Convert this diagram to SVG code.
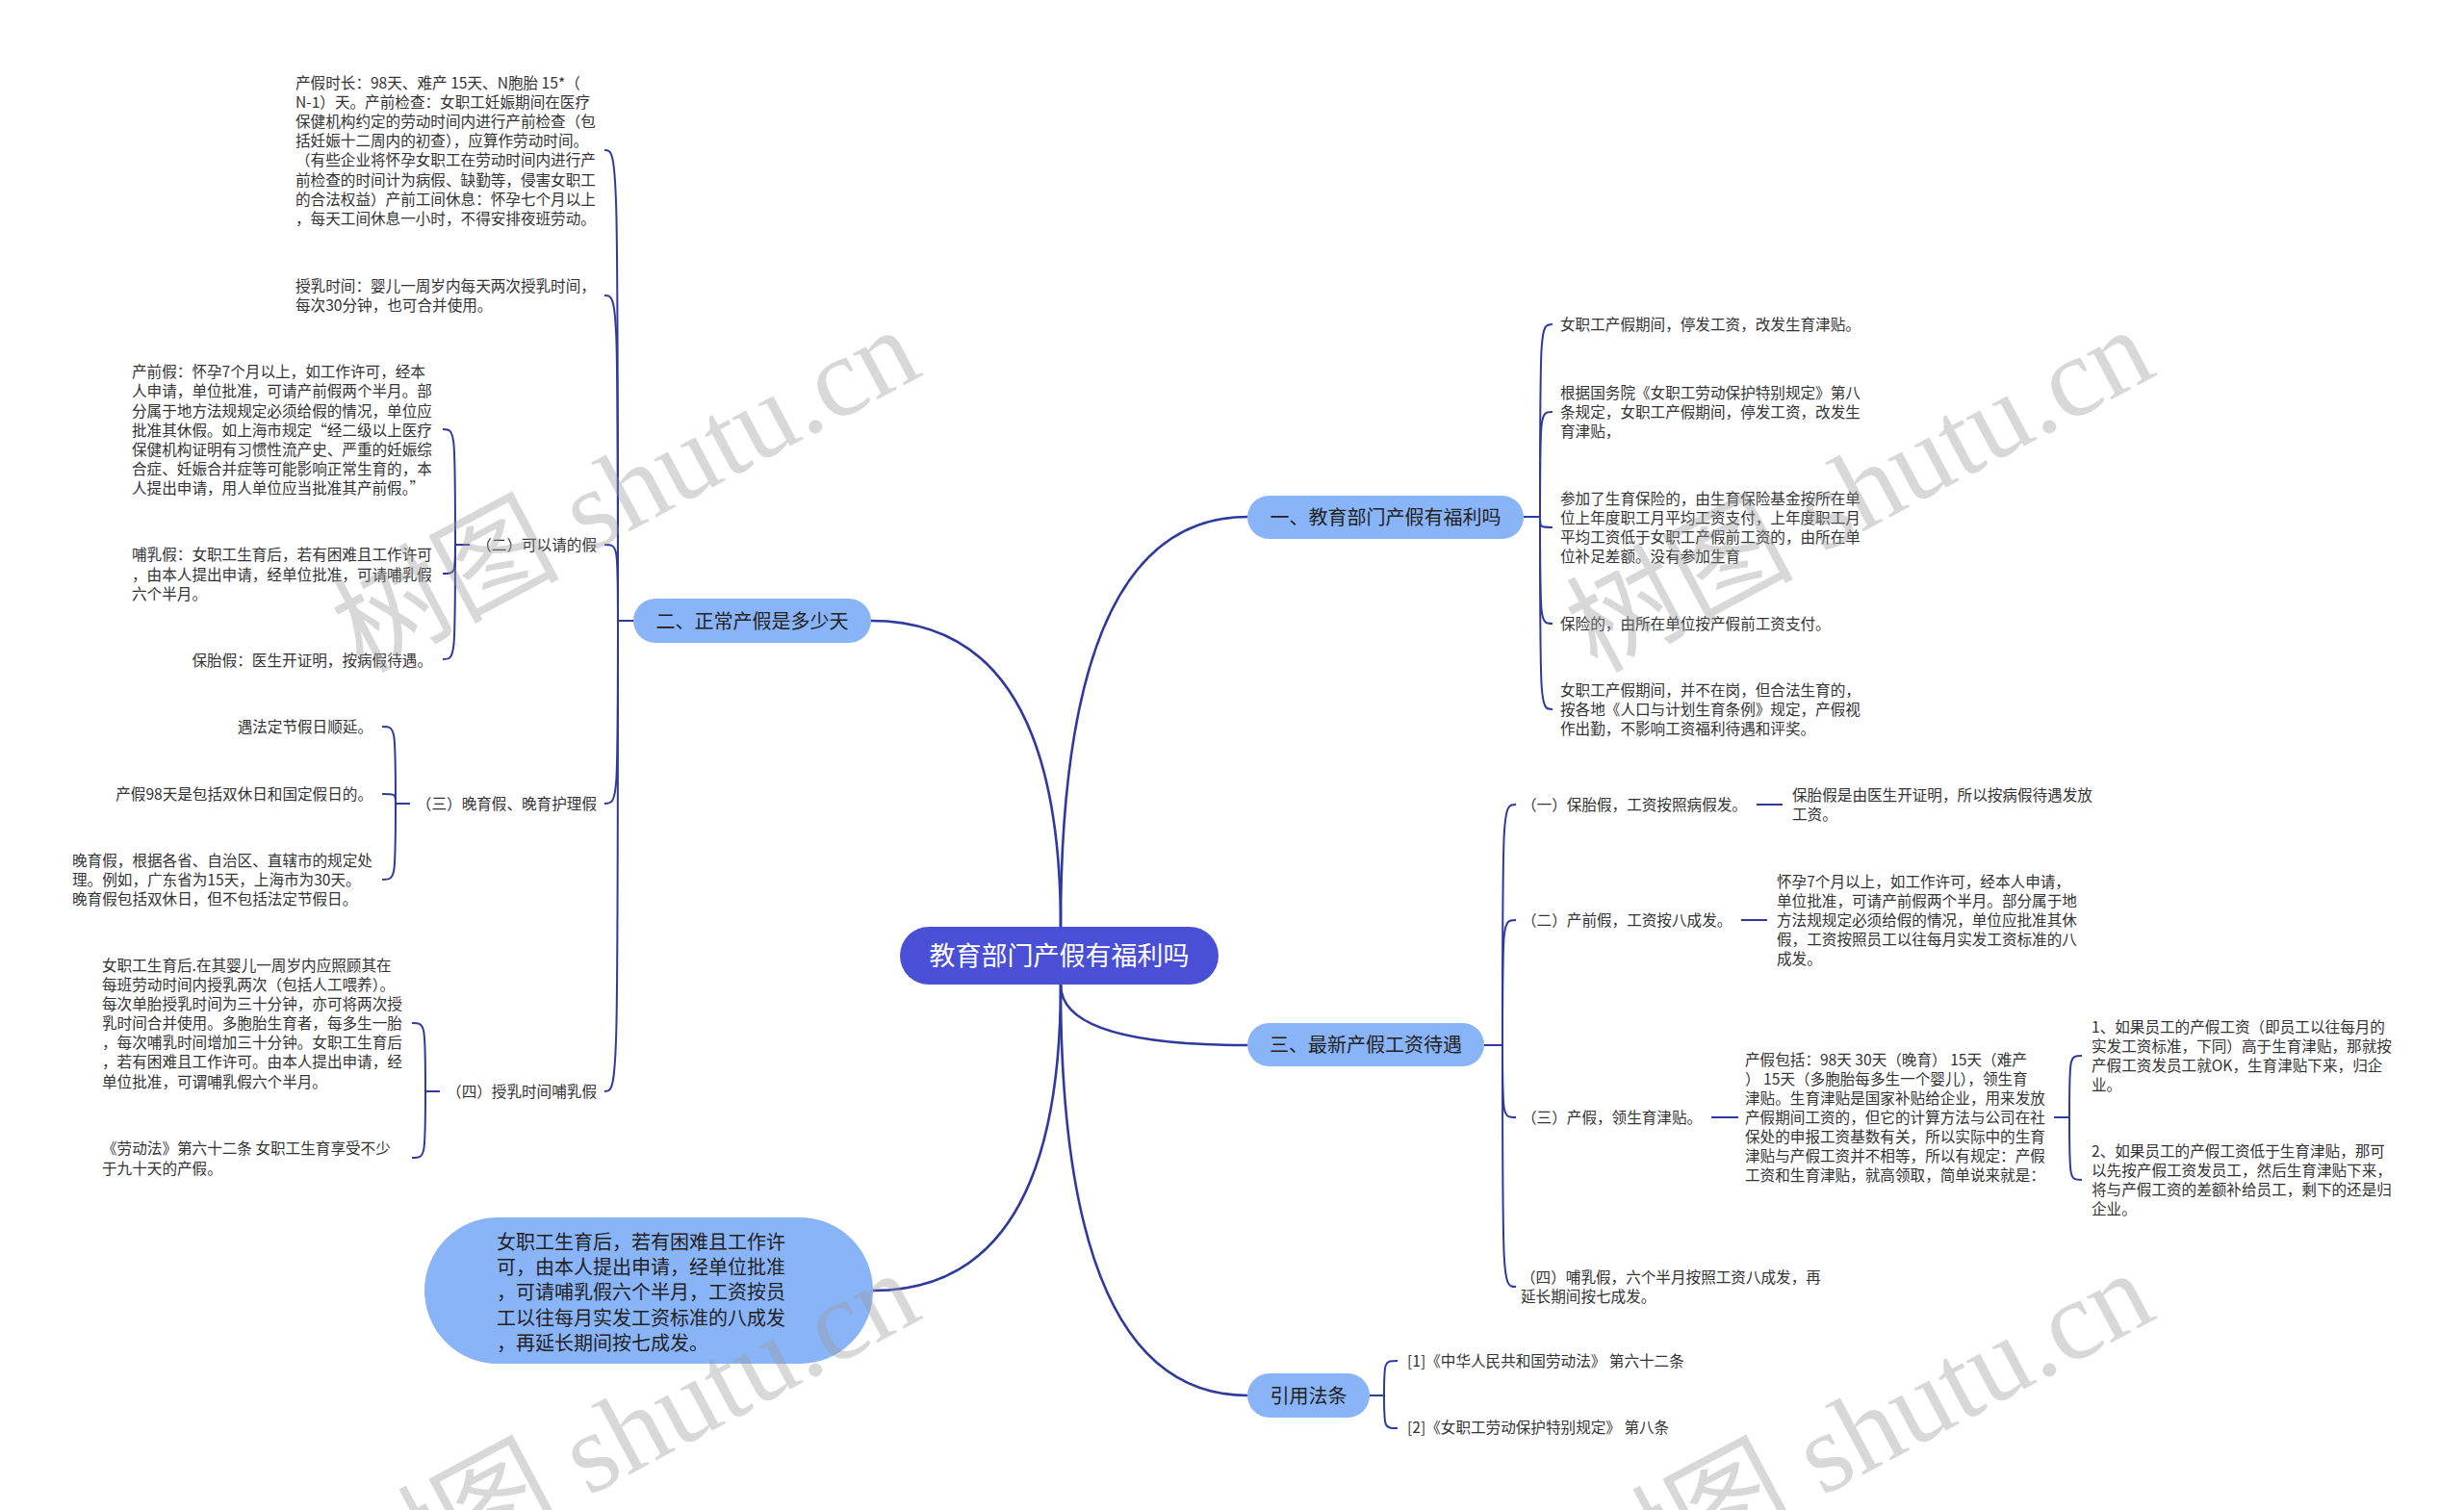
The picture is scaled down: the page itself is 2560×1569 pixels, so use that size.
<svg xmlns="http://www.w3.org/2000/svg" width="2560" height="1569" viewBox="0 0 2560 1569">
<defs>
<style>
.t{font-family:"Noto Sans CJK SC","Noto Sans",sans-serif;font-size:15.6px;fill:#333}
.e{text-anchor:end}
.l1{font-family:"Noto Sans CJK SC","Noto Sans",sans-serif;font-size:20px;fill:#222;text-anchor:middle}
.bt{font-family:"Noto Sans CJK SC","Noto Sans",sans-serif;font-size:20px;fill:#222}
.root{font-family:"Noto Sans CJK SC","Noto Sans",sans-serif;font-size:27px;fill:#fff;text-anchor:middle}
.n1{fill:#8ab4f8}
.n0{fill:#4a50d6}
.c{fill:none;stroke:#2e3a9e;stroke-width:2}
.cm{fill:none;stroke:#2e3a9e;stroke-width:2.6}
.wm{font-family:"Liberation Serif","Noto Sans CJK SC",serif;font-size:118px;fill:#9a9a9a;opacity:.38;text-anchor:middle}
</style>
</defs>
<rect width="2560" height="1569" fill="#fff"/>

<g id="connectors">
<path class="cm" d="M1102 963 Q1102 537 1296 537"/>
<path class="cm" d="M1102 963 Q1102 645 905 645"/>
<path class="cm" d="M1102 1023 Q1102 1341 907 1341"/>
<path class="cm" d="M1102 1023 Q1102 1086 1296 1086"/>
<path class="cm" d="M1102 1023 Q1102 1450 1296 1450"/>

<path class="c" d="M658 645 H642"/>
<path class="c" d="M642 645 C642 156 642 156 628 156"/>
<path class="c" d="M642 645 C642 307 642 307 628 307"/>
<path class="c" d="M642 645 C642 566 642 566 628 566"/>
<path class="c" d="M642 645 C642 835 642 835 628 835"/>
<path class="c" d="M642 645 C642 1134 642 1134 628 1134"/>

<path class="c" d="M488 566 H473"/>
<path class="c" d="M473 566 C473 446 473 446 460 446"/>
<path class="c" d="M473 566 C473 596 473 596 460 596"/>
<path class="c" d="M473 566 C473 685 473 685 460 685"/>

<path class="c" d="M426 835 H411"/>
<path class="c" d="M411 835 C411 755 411 755 397 755"/>
<path class="c" d="M411 835 C411 825 411 825 397 825"/>
<path class="c" d="M411 835 C411 914 411 914 397 914"/>

<path class="c" d="M457 1134 H442"/>
<path class="c" d="M442 1134 C442 1063 442 1063 428 1063"/>
<path class="c" d="M442 1134 C442 1203 442 1203 428 1203"/>

<path class="c" d="M1583 537 H1600"/>
<path class="c" d="M1600 537 C1600 337 1600 337 1613 337"/>
<path class="c" d="M1600 537 C1600 428 1600 428 1613 428"/>
<path class="c" d="M1600 537 C1600 548 1600 548 1613 548"/>
<path class="c" d="M1600 537 C1600 648 1600 648 1613 648"/>
<path class="c" d="M1600 537 C1600 737 1600 737 1613 737"/>

<path class="c" d="M1542 1086 H1561"/>
<path class="c" d="M1561 1086 C1561 836 1561 836 1575 836"/>
<path class="c" d="M1561 1086 C1561 956 1561 956 1575 956"/>
<path class="c" d="M1561 1086 C1561 1161 1561 1161 1575 1161"/>
<path class="c" d="M1561 1086 C1561 1337 1561 1337 1575 1337"/>
<path class="c" d="M1825 836 H1852"/>
<path class="c" d="M1809 956 H1836"/>
<path class="c" d="M1778 1161 H1806"/>
<path class="c" d="M2134 1161 H2150"/>
<path class="c" d="M2150 1161 C2150 1097 2150 1097 2163 1097"/>
<path class="c" d="M2150 1161 C2150 1226 2150 1226 2163 1226"/>

<path class="c" d="M1423 1450 H1438"/>
<path class="c" d="M1438 1450 C1438 1414 1438 1414 1452 1414"/>
<path class="c" d="M1438 1450 C1438 1484 1438 1484 1452 1484"/>
</g>

<g id="root">
<rect class="n0" x="935" y="963" width="331" height="60" rx="30"/>
<text class="root" x="1100.5" y="1003">教育部门产假有福利吗</text>
</g>

<g id="n-1">
<rect class="n1" x="1296" y="515" width="287" height="45" rx="22.5"/>
<text class="l1" x="1439.5" y="545">一、教育部门产假有福利吗</text>
</g>
<g id="n-2">
<rect class="n1" x="658" y="622" width="247" height="46" rx="23"/>
<text class="l1" x="781.5" y="652.6">二、正常产假是多少天</text>
</g>
<g id="n-3">
<rect class="n1" x="1296" y="1063" width="246" height="45" rx="22.5"/>
<text class="l1" x="1419" y="1093">三、最新产假工资待遇</text>
</g>
<g id="n-4">
<rect class="n1" x="1296" y="1427" width="127" height="46" rx="23"/>
<text class="l1" x="1359.5" y="1457.6">引用法条</text>
</g>
<g id="n-bubble">
<rect class="n1" x="441" y="1265" width="466" height="152" rx="76"/>
<text class="bt">
<tspan x="516" y="1298">女职工生育后，若有困难且工作许</tspan>
<tspan x="516" y="1324">可，由本人提出申请，经单位批准</tspan>
<tspan x="516" y="1350">，可请哺乳假六个半月，工资按员</tspan>
<tspan x="516" y="1377">工以往每月实发工资标准的八成发</tspan>
<tspan x="516" y="1403">，再延长期间按七成发。</tspan>
</text>
</g>

<g id="n-2-1">
<text class="t">
<tspan x="307" y="92">产假时长：98天、难产 15天、N胞胎 15*（</tspan>
<tspan x="307" y="112">N-1）天。产前检查：女职工妊娠期间在医疗</tspan>
<tspan x="307" y="132">保健机构约定的劳动时间内进行产前检查（包</tspan>
<tspan x="307" y="152">括妊娠十二周内的初查），应算作劳动时间。</tspan>
<tspan x="307" y="172">（有些企业将怀孕女职工在劳动时间内进行产</tspan>
<tspan x="307" y="193">前检查的时间计为病假、缺勤等，侵害女职工</tspan>
<tspan x="307" y="213">的合法权益）产前工间休息：怀孕七个月以上</tspan>
<tspan x="307" y="233">，每天工间休息一小时，不得安排夜班劳动。</tspan>
</text>
</g>
<g id="n-2-2">
<text class="t">
<tspan x="307" y="303">授乳时间：婴儿一周岁内每天两次授乳时间，</tspan>
<tspan x="307" y="323">每次30分钟，也可合并使用。</tspan>
</text>
</g>
<g id="n-2-3">
<text class="t e" x="620" y="572">（二）可以请的假</text>
</g>
<g id="n-2-3-1">
<text class="t">
<tspan x="137" y="392">产前假：怀孕7个月以上，如工作许可，经本</tspan>
<tspan x="137" y="412">人申请，单位批准，可请产前假两个半月。部</tspan>
<tspan x="137" y="433">分属于地方法规规定必须给假的情况，单位应</tspan>
<tspan x="137" y="453">批准其休假。如上海市规定“经二级以上医疗</tspan>
<tspan x="137" y="473">保健机构证明有习惯性流产史、严重的妊娠综</tspan>
<tspan x="137" y="493">合症、妊娠合并症等可能影响正常生育的，本</tspan>
<tspan x="137" y="513">人提出申请，用人单位应当批准其产前假。”</tspan>
</text>
</g>
<g id="n-2-3-2">
<text class="t">
<tspan x="137" y="582">哺乳假：女职工生育后，若有困难且工作许可</tspan>
<tspan x="137" y="603">，由本人提出申请，经单位批准，可请哺乳假</tspan>
<tspan x="137" y="623">六个半月。</tspan>
</text>
</g>
<g id="n-2-3-3">
<text class="t e" x="449" y="692">保胎假：医生开证明，按病假待遇。</text>
</g>
<g id="n-2-4">
<text class="t e" x="620" y="841">（三）晚育假、晚育护理假</text>
</g>
<g id="n-2-4-1">
<text class="t e" x="387" y="761">遇法定节假日顺延。</text>
</g>
<g id="n-2-4-2">
<text class="t e" x="387" y="831">产假98天是包括双休日和国定假日的。</text>
</g>
<g id="n-2-4-3">
<text class="t">
<tspan x="75" y="900">晚育假，根据各省、自治区、直辖市的规定处</tspan>
<tspan x="75" y="920">理。例如，广东省为15天，上海市为30天。</tspan>
<tspan x="75" y="940">晚育假包括双休日，但不包括法定节假日。</tspan>
</text>
</g>
<g id="n-2-5">
<text class="t e" x="620" y="1140">（四）授乳时间哺乳假</text>
</g>
<g id="n-2-5-1">
<text class="t">
<tspan x="106" y="1009">女职工生育后.在其婴儿一周岁内应照顾其在</tspan>
<tspan x="106" y="1029">每班劳动时间内授乳两次（包括人工喂养）。</tspan>
<tspan x="106" y="1049">每次单胎授乳时间为三十分钟，亦可将两次授</tspan>
<tspan x="106" y="1069">乳时间合并使用。多胞胎生育者，每多生一胎</tspan>
<tspan x="106" y="1089">，每次哺乳时间增加三十分钟。女职工生育后</tspan>
<tspan x="106" y="1109">，若有困难且工作许可。由本人提出申请，经</tspan>
<tspan x="106" y="1130">单位批准，可谓哺乳假六个半月。</tspan>
</text>
</g>
<g id="n-2-5-2">
<text class="t">
<tspan x="106" y="1199">《劳动法》第六十二条 女职工生育享受不少</tspan>
<tspan x="106" y="1220">于九十天的产假。</tspan>
</text>
</g>

<g id="n-1-1">
<text class="t" x="1621" y="343">女职工产假期间，停发工资，改发生育津贴。</text>
</g>
<g id="n-1-2">
<text class="t">
<tspan x="1621" y="414">根据国务院《女职工劳动保护特别规定》第八</tspan>
<tspan x="1621" y="434">条规定，女职工产假期间，停发工资，改发生</tspan>
<tspan x="1621" y="454">育津贴，</tspan>
</text>
</g>
<g id="n-1-3">
<text class="t">
<tspan x="1621" y="524">参加了生育保险的，由生育保险基金按所在单</tspan>
<tspan x="1621" y="544">位上年度职工月平均工资支付，上年度职工月</tspan>
<tspan x="1621" y="564">平均工资低于女职工产假前工资的，由所在单</tspan>
<tspan x="1621" y="584">位补足差额。没有参加生育</tspan>
</text>
</g>
<g id="n-1-4">
<text class="t" x="1621" y="654">保险的，由所在单位按产假前工资支付。</text>
</g>
<g id="n-1-5">
<text class="t">
<tspan x="1621" y="723">女职工产假期间，并不在岗，但合法生育的，</tspan>
<tspan x="1621" y="743">按各地《人口与计划生育条例》规定，产假视</tspan>
<tspan x="1621" y="763">作出勤，不影响工资福利待遇和评奖。</tspan>
</text>
</g>

<g id="n-3-1">
<text class="t" x="1581" y="842">（一）保胎假，工资按照病假发。</text>
</g>
<g id="n-3-1-1">
<text class="t">
<tspan x="1862" y="832">保胎假是由医生开证明，所以按病假待遇发放</tspan>
<tspan x="1862" y="852">工资。</tspan>
</text>
</g>
<g id="n-3-2">
<text class="t" x="1581" y="962">（二）产前假，工资按八成发。</text>
</g>
<g id="n-3-2-1">
<text class="t">
<tspan x="1846" y="922">怀孕7个月以上，如工作许可，经本人申请，</tspan>
<tspan x="1846" y="942">单位批准，可请产前假两个半月。部分属于地</tspan>
<tspan x="1846" y="962">方法规规定必须给假的情况，单位应批准其休</tspan>
<tspan x="1846" y="982">假，工资按照员工以往每月实发工资标准的八</tspan>
<tspan x="1846" y="1002">成发。</tspan>
</text>
</g>
<g id="n-3-3">
<text class="t" x="1581" y="1167">（三）产假，领生育津贴。</text>
</g>
<g id="n-3-3-1">
<text class="t">
<tspan x="1813" y="1107">产假包括：98天 30天（晚育） 15天（难产</tspan>
<tspan x="1813" y="1127">） 15天（多胞胎每多生一个婴儿），领生育</tspan>
<tspan x="1813" y="1147">津贴。生育津贴是国家补贴给企业，用来发放</tspan>
<tspan x="1813" y="1167">产假期间工资的，但它的计算方法与公司在社</tspan>
<tspan x="1813" y="1187">保处的申报工资基数有关，所以实际中的生育</tspan>
<tspan x="1813" y="1207">津贴与产假工资并不相等，所以有规定：产假</tspan>
<tspan x="1813" y="1227">工资和生育津贴，就高领取，简单说来就是：</tspan>
</text>
</g>
<g id="n-3-3-1-1">
<text class="t">
<tspan x="2173" y="1073">1、如果员工的产假工资（即员工以往每月的</tspan>
<tspan x="2173" y="1093">实发工资标准，下同）高于生育津贴，那就按</tspan>
<tspan x="2173" y="1113">产假工资发员工就OK，生育津贴下来，归企</tspan>
<tspan x="2173" y="1133">业。</tspan>
</text>
</g>
<g id="n-3-3-1-2">
<text class="t">
<tspan x="2173" y="1202">2、如果员工的产假工资低于生育津贴，那可</tspan>
<tspan x="2173" y="1222">以先按产假工资发员工，然后生育津贴下来，</tspan>
<tspan x="2173" y="1242">将与产假工资的差额补给员工，剩下的还是归</tspan>
<tspan x="2173" y="1262">企业。</tspan>
</text>
</g>
<g id="n-3-4">
<text class="t">
<tspan x="1580" y="1333">（四）哺乳假，六个半月按照工资八成发，再</tspan>
<tspan x="1580" y="1353">延长期间按七成发。</tspan>
</text>
</g>

<g id="n-4-1">
<text class="t" x="1462" y="1420">[1]《中华人民共和国劳动法》 第六十二条</text>
</g>
<g id="n-4-2">
<text class="t" x="1462" y="1489">[2]《女职工劳动保护特别规定》 第八条</text>
</g>

<g id="watermark">
<text class="wm" transform="translate(650 509) rotate(-28)" y="40">树图 shutu.cn</text>
<text class="wm" transform="translate(1932 509) rotate(-28)" y="40">树图 shutu.cn</text>
<text class="wm" transform="translate(650 1489) rotate(-28)" y="40">树图 shutu.cn</text>
<text class="wm" transform="translate(1932 1489) rotate(-28)" y="40">树图 shutu.cn</text>
</g>
</svg>
